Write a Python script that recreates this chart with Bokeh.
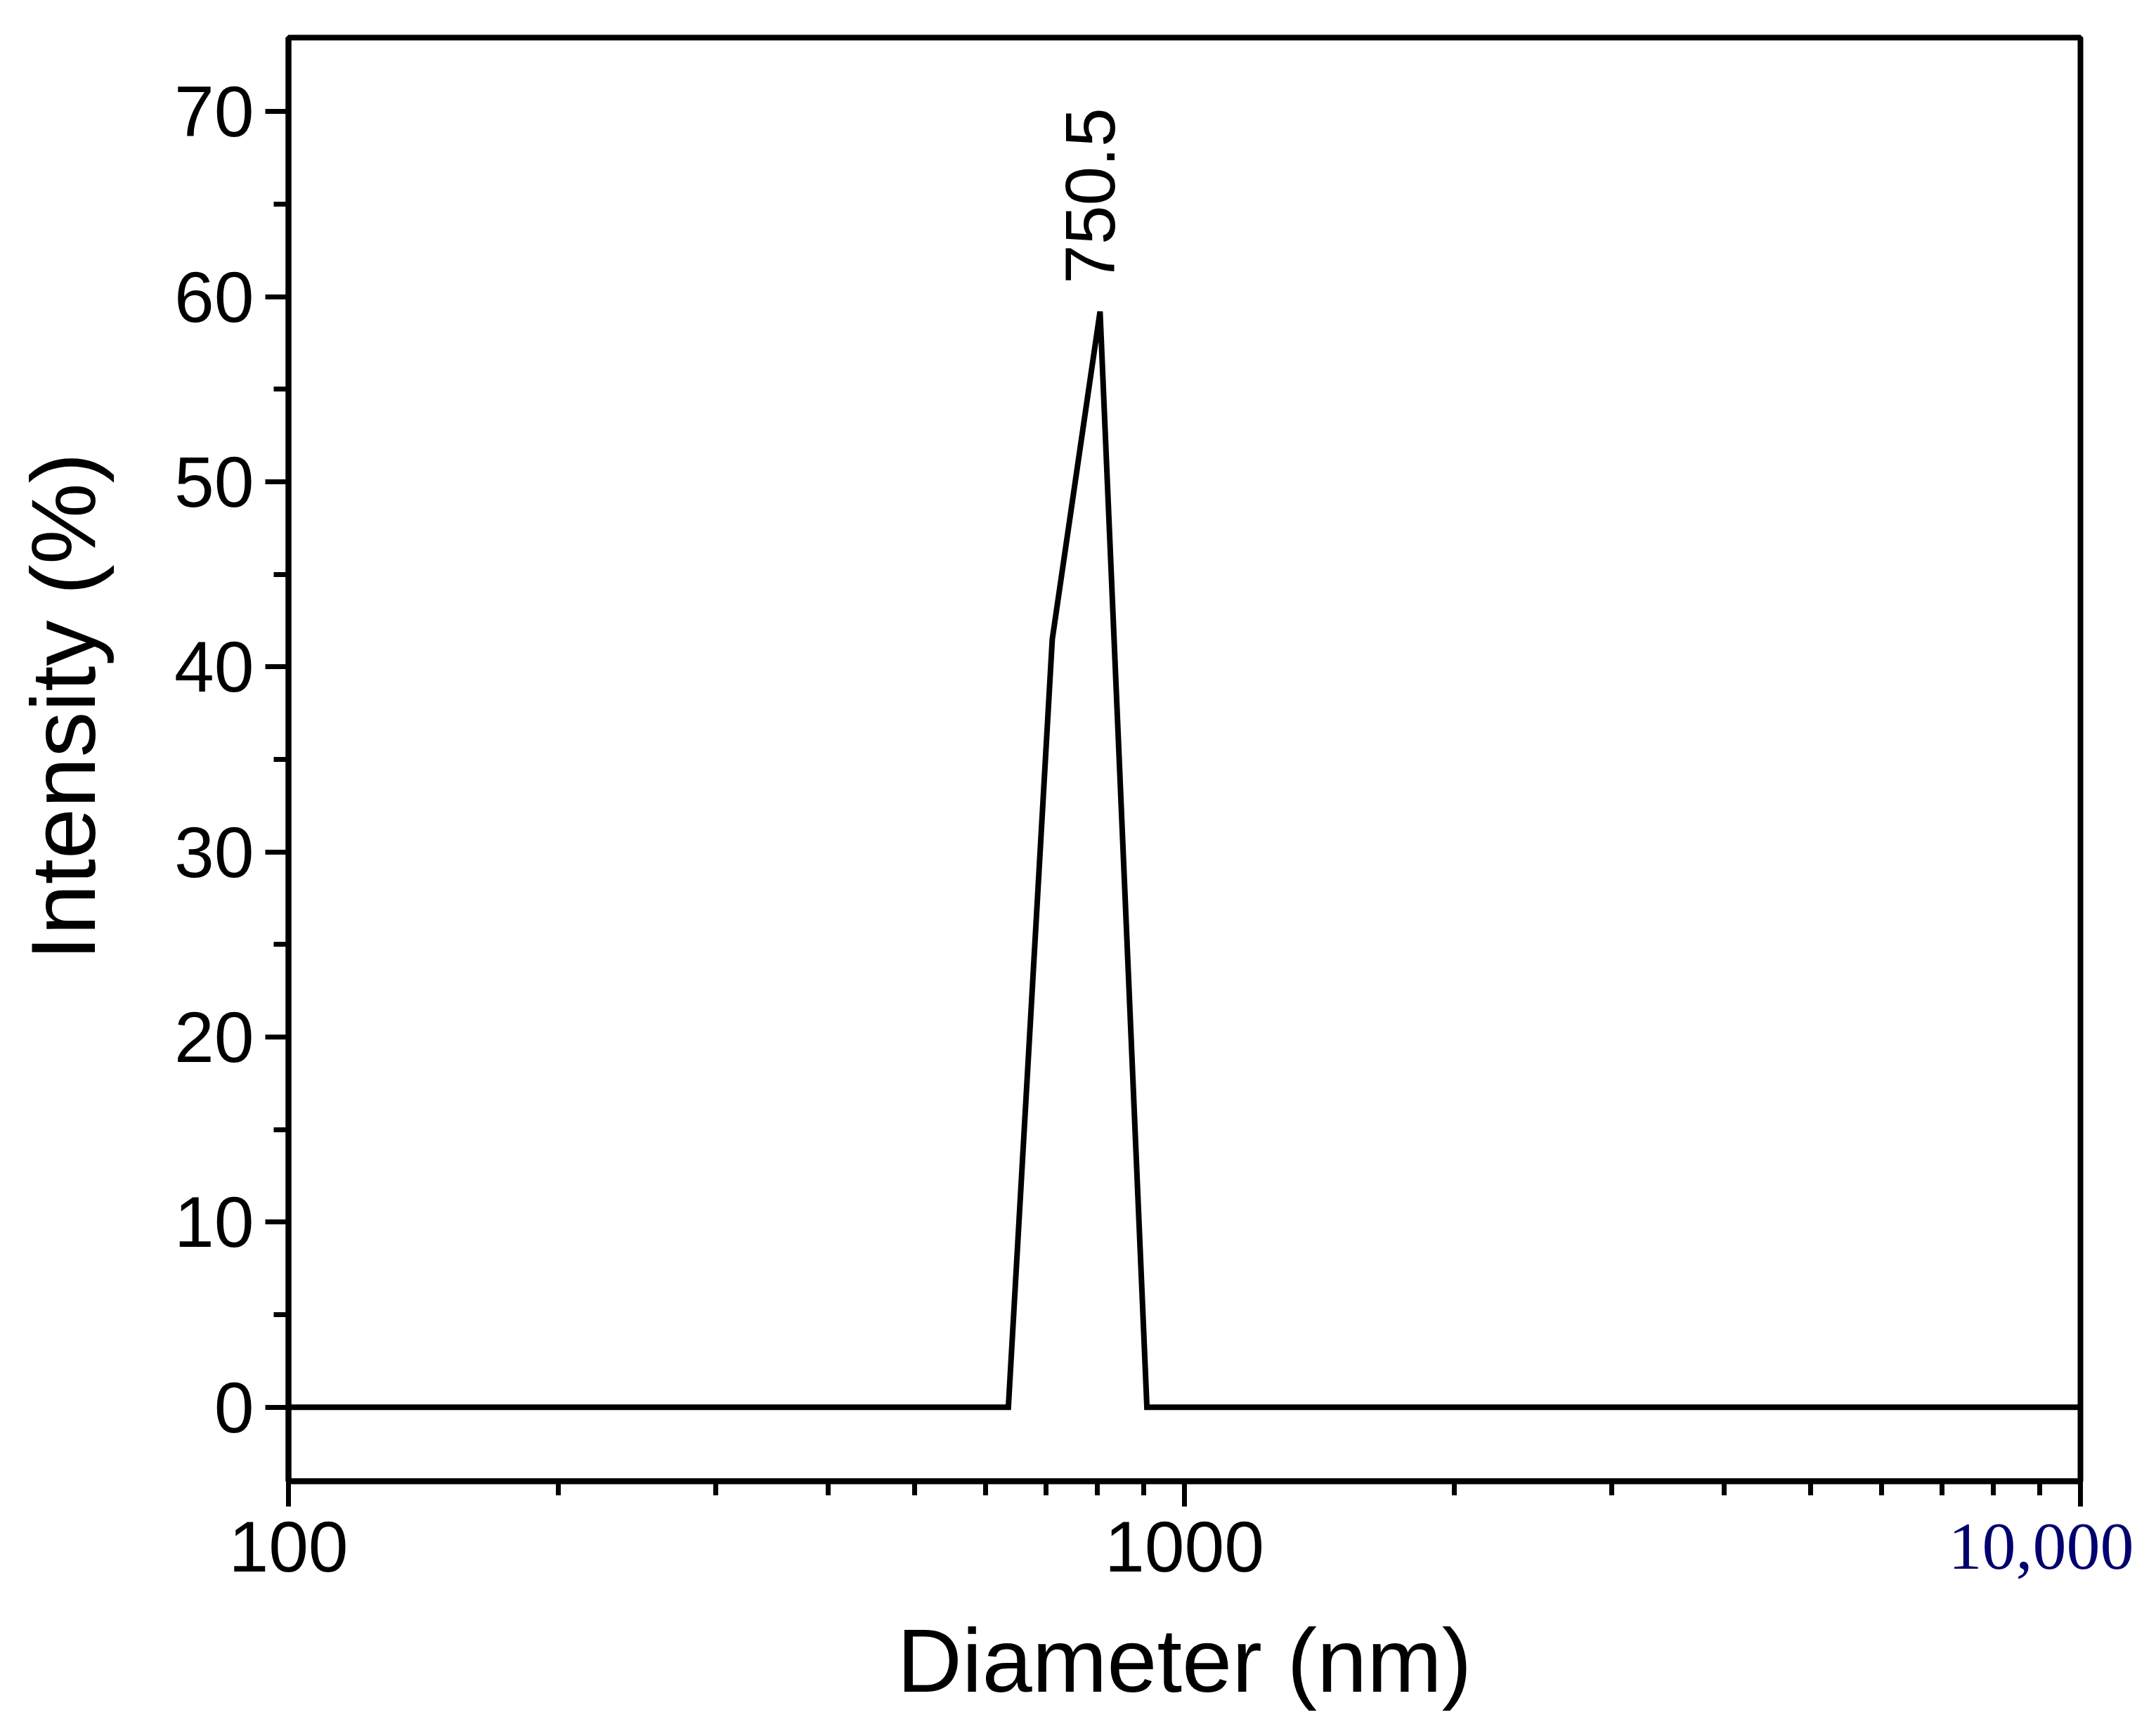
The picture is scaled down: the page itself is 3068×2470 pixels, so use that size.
import math
from bokeh.plotting import figure
from bokeh.models import Label, FixedTicker, Range1d, BasicTickFormatter
from bokeh.embed import file_html
from bokeh.resources import INLINE

# ---- data ----
diameter_nm = [100, 636, 712, 805, 908, 10000]
intensity_pct = [0, 0, 41.5, 59.2, 0, 0]
peak_label = "750.5"
peak_x = 805
peak_label_y = 60.7

x_major = [100, 1000, 10000]
x_minor = [200, 300, 400, 500, 600, 700, 800, 900,
           2000, 3000, 4000, 5000, 6000, 7000, 8000, 9000]
x_tick_labels = {100: "100", 1000: "1000", 10000: " "}
x_last_label = "10,000"
y_major = [0, 10, 20, 30, 40, 50, 60, 70]
y_minor = [5, 15, 25, 35, 45, 55, 65]

x_title = "Diameter (nm)"
y_title = "Intensity (%)"
y_title_center = 37.85   # data height at which the y title is centred

FONT = "Liberation Sans"

p = figure(x_axis_type="log",
           x_range=Range1d(100, 10000), y_range=Range1d(-4, 74),
           frame_width=2550, frame_height=2054,
           min_border_left=410, min_border_right=100,
           min_border_top=53, min_border_bottom=340,
           output_backend="svg", toolbar_location=None)

p.xgrid.visible = False
p.ygrid.visible = False
p.outline_line_color = "black"
p.outline_line_width = 8
p.outline_line_alpha = 1.0
p.background_fill_color = "white"
p.border_fill_color = "white"

p.line(diameter_nm, intensity_pct, line_width=8, line_color="black",
       line_join="miter")

for ax in (p.xaxis[0], p.yaxis[0]):
    ax.axis_line_width = 8
    ax.axis_line_color = "black"
    ax.major_tick_line_width = 7
    ax.minor_tick_line_width = 7
    ax.major_tick_line_color = "black"
    ax.minor_tick_line_color = "black"
    ax.major_tick_in = 0
    ax.minor_tick_in = 0
    ax.major_label_text_font = FONT
    ax.major_label_text_font_size = "102px"
    ax.major_label_text_color = "black"

xa = p.xaxis[0]
xa.ticker = FixedTicker(ticks=x_major, minor_ticks=x_minor)
xa.formatter = BasicTickFormatter(use_scientific=False)
xa.major_label_overrides = x_tick_labels
xa.major_tick_out = 36
xa.minor_tick_out = 20
xa.major_label_standoff = 0
xa.axis_label = x_title
xa.axis_label_text_font = FONT
xa.axis_label_text_font_size = "128px"
xa.axis_label_text_font_style = "normal"
xa.axis_label_text_color = "black"
xa.axis_label_standoff = 30

ya = p.yaxis[0]
ya.ticker = FixedTicker(ticks=y_major, minor_ticks=y_minor)
ya.major_tick_out = 33
ya.minor_tick_out = 21
ya.major_label_standoff = 16

# y title, a little above the frame centre as in the reference
p.add_layout(Label(x=100, y=y_title_center, text=y_title,
                   x_offset=-321, y_offset=0, angle=math.pi / 2,
                   text_align="center", text_baseline="alphabetic",
                   text_font=FONT, text_font_size="130px",
                   text_color="black"), "left")

# last x tick label (different style in the reference)
p.add_layout(Label(x=10000, y=-4, x_units="data", y_units="data",
                   text=x_last_label, x_offset=-188, y_offset=-93,
                   text_align="left", text_baseline="alphabetic",
                   text_font="Liberation Serif", text_font_size="96px",
                   text_color="#00006e"), "below")

# peak annotation
p.add_layout(Label(x=peak_x, y=peak_label_y, text=peak_label,
                   x_offset=-14, y_offset=0, angle=math.pi / 2,
                   text_align="left", text_baseline="alphabetic",
                   text_font=FONT, text_font_size="100px",
                   text_color="black"))

open("out.html", "w").write(file_html(p, INLINE))
